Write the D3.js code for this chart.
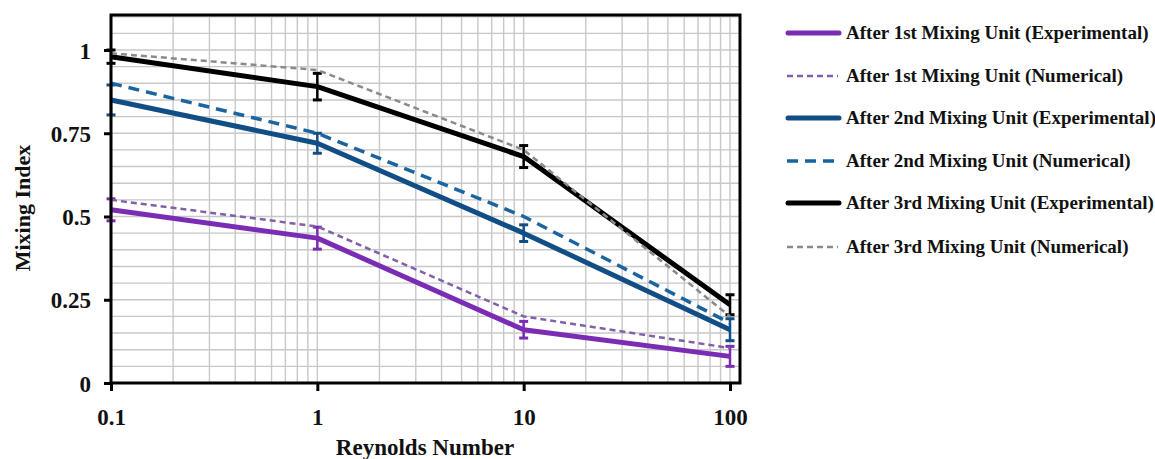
<!DOCTYPE html>
<html><head><meta charset="utf-8">
<script src="https://cdn.jsdelivr.net/npm/d3@7"></script>
<style>
html,body{margin:0;padding:0;background:#fff;}
svg{display:block;}
text{font-family:"Liberation Serif","DejaVu Serif",serif;font-weight:bold;fill:#111;}
</style></head><body>
<svg id="chart" width="1155" height="459"></svg>
<script>
// ---- data ----
const reynolds = [0.1, 1, 10, 100];
const exp1 = [0.52, 0.435, 0.16, 0.08];
const exp1Err = [0.033, 0.033, 0.025, 0.03];
const num1 = [0.55, 0.47, 0.20, 0.105];
const exp2 = [0.85, 0.72, 0.45, 0.16];
const exp2Err = [0.045, 0.03, 0.025, 0.033];
const num2 = [0.90, 0.75, 0.50, 0.18];
const exp3 = [0.98, 0.89, 0.68, 0.235];
const exp3Err = [0.02, 0.04, 0.033, 0.03];
const num3 = [0.99, 0.94, 0.70, 0.20];
const yTicks = [0, 0.25, 0.5, 0.75, 1];
const yTickLabels = ["0", "0.25", "0.5", "0.75", "1"];
const xTicks = [0.1, 1, 10, 100];
const xTickLabels = ["0.1", "1", "10", "100"];
const seriesNames = [
  "After 1st Mixing Unit (Experimental)",
  "After 1st Mixing Unit (Numerical)",
  "After 2nd Mixing Unit (Experimental)",
  "After 2nd Mixing Unit (Numerical)",
  "After 3rd Mixing Unit (Experimental)",
  "After 3rd Mixing Unit (Numerical)"
];

const series = [
  {name: seriesNames[0], values: exp1, err: exp1Err, color: "#7B2CB4", width: 5, dash: null},
  {name: seriesNames[1], values: num1, err: null, color: "#8060A8", width: 2.5, dash: "6,4"},
  {name: seriesNames[2], values: exp2, err: exp2Err, color: "#124E86", width: 5, dash: null},
  {name: seriesNames[3], values: num2, err: null, color: "#1A64A0", width: 3.5, dash: "11,7"},
  {name: seriesNames[4], values: exp3, err: exp3Err, color: "#000000", width: 5, dash: null},
  {name: seriesNames[5], values: num3, err: null, color: "#8A8A8A", width: 2.5, dash: "6,4"}
];

const svg = d3.select("#chart");
const L = 111, R = 740, T = 15, B = 383;
const x = d3.scaleLog().domain([0.1, 100]).range([L, 730]);
const y = d3.scaleLinear().domain([0, 1]).range([B, 50]);
const yMax = y.invert(T);

// grid
const g = svg.append("g");
const minorX = [];
for (let d = 0.1; d < 100; d *= 10) for (let k = 1; k <= 9; k++) minorX.push(+(d * k).toPrecision(3));
minorX.push(100);
g.selectAll("line.vx").data(minorX).join("line")
  .attr("x1", d => x(d)).attr("x2", d => x(d)).attr("y1", T).attr("y2", B)
  .attr("stroke", "#c8c8c8").attr("stroke-width", 1.4);
const hy = d3.range(0, yMax, 0.05);
g.selectAll("line.hy").data(hy).join("line")
  .attr("x1", L).attr("x2", R).attr("y1", d => y(d)).attr("y2", d => y(d))
  .attr("stroke", "#c8c8c8").attr("stroke-width", 1.4);

// series lines
const line = d3.line().x((d, i) => x(reynolds[i])).y(d => y(d));
series.forEach(s => {
  const p = svg.append("path").datum(s.values).attr("d", line)
    .attr("fill", "none").attr("stroke", s.color).attr("stroke-width", s.width)
    .attr("stroke-linejoin", "round");
  if (s.dash) p.attr("stroke-dasharray", s.dash);
  if (s.err) {
    const eg = svg.append("g").attr("stroke", s.color).attr("stroke-width", 2.5);
    s.values.forEach((v, i) => {
      const cx = x(reynolds[i]), y1 = y(v - s.err[i]), y2 = y(v + s.err[i]);
      eg.append("line").attr("x1", cx).attr("x2", cx).attr("y1", y1).attr("y2", y2);
      eg.append("line").attr("x1", cx - 4.5).attr("x2", cx + 4.5).attr("y1", y1).attr("y2", y1).attr("stroke-width", 3);
      eg.append("line").attr("x1", cx - 4.5).attr("x2", cx + 4.5).attr("y1", y2).attr("y2", y2).attr("stroke-width", 3);
    });
  }
});

// frame
svg.append("rect").attr("x", L).attr("y", T).attr("width", R - L).attr("height", B - T)
  .attr("fill", "none").attr("stroke", "#000").attr("stroke-width", 3);

// axes
const yAxis = d3.axisLeft(y).tickValues(yTicks).tickSize(7).tickFormat((d, i) => yTickLabels[i]).tickPadding(13);
const ya = svg.append("g").attr("transform", `translate(${L},0)`).call(yAxis);
ya.select(".domain").remove();
ya.selectAll(".tick line").attr("stroke", "#000").attr("stroke-width", 3);
ya.selectAll(".tick text").attr("font-size", 23).attr("font-family", null).attr("fill", "#111").attr("dy", "0.35em");

const xAxis = d3.axisBottom(x).tickValues(xTicks).tickSize(8).tickFormat((d, i) => xTickLabels[i]).tickPadding(18);
const xa = svg.append("g").attr("transform", `translate(0,${B})`).call(xAxis);
xa.select(".domain").remove();
xa.selectAll(".tick line").attr("stroke", "#000").attr("stroke-width", 3);
xa.selectAll(".tick text").attr("font-size", 23).attr("font-family", null).attr("fill", "#111");

svg.append("text").attr("x", 425).attr("y", 455).attr("text-anchor", "middle")
  .attr("font-size", 23).text("Reynolds Number");
svg.append("text").attr("transform", "translate(30,208) rotate(-90)").attr("text-anchor", "middle")
  .attr("font-size", 22).text("Mixing Index");

// legend
const legY = [33, 76, 118, 161, 203, 247];
const lg = svg.append("g");
series.forEach((s, i) => {
  const ln = lg.append("line").attr("x1", s.dash ? 787 : 788).attr("x2", s.dash ? 838 : 839)
    .attr("y1", legY[i]).attr("y2", legY[i])
    .attr("stroke", s.color).attr("stroke-width", s.width);
  if (s.dash) ln.attr("stroke-dasharray", s.dash);
  else ln.attr("stroke-linecap", "round");
  lg.append("text").attr("x", 846).attr("y", legY[i] + 6).attr("font-size", 19).text(s.name);
});
</script>
</body></html>
